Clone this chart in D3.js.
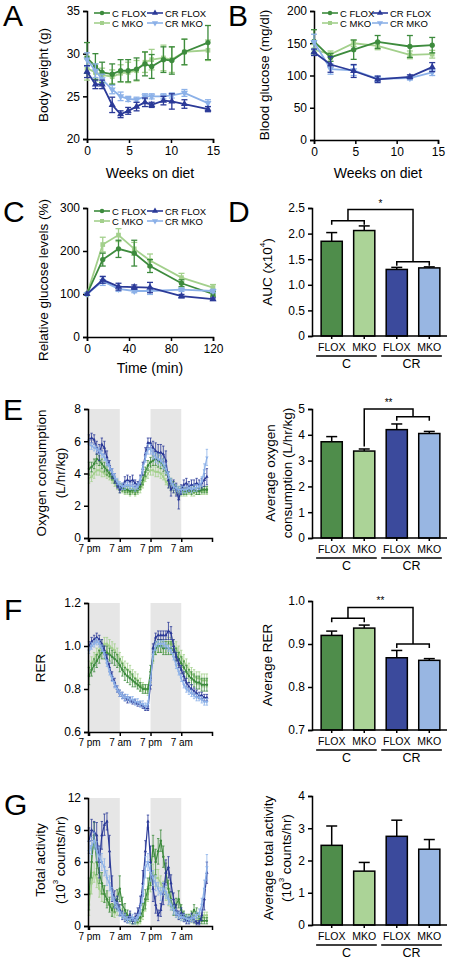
<!DOCTYPE html>
<html><head><meta charset="utf-8">
<script src="https://cdn.jsdelivr.net/npm/d3@7"></script>
<style>body{margin:0;background:#fff} svg{display:block}</style>
</head><body><svg id="c" width="450" height="965"></svg>
<script>
// ---------- shared categories ----------
const groupNames = ["C FLOX","C MKO","CR FLOX","CR MKO"];
const lineColors = ["#3d8b3d","#a3d08c","#2b3a98","#8cb1e8"];
const barColors  = ["#4f8d4b","#abd397","#3b4a9c","#98b6e2"];
const barLabels  = ["FLOX","MKO","FLOX","MKO"];
const dietLabels = ["C","CR"];
const timeTickLabels = ["7 pm","7 am","7 pm","7 am"];
const timeTickHours = [0,12,24,36];

// ---------- A: body weight ----------
const weeksA = [0,1,1.8,3,4,4.9,5.9,6.9,7.7,9.1,10.1,11.6,14.4];
const bwCFlox  = [29.5,28.5,27.8,27.6,28.0,28.0,28.2,28.8,28.5,29.3,29.2,30.2,31.3];
const bwCMko   = [28.3,27.8,27.5,27.3,27.7,27.8,28.0,29.0,29.3,29.5,29.3,30.2,30.4];
const bwCRFlox = [27.9,26.4,26.4,24.0,22.9,23.3,23.8,24.3,24.0,24.5,24.4,24.1,23.5];
const bwCRMko  = [29.3,28.0,27.0,25.8,25.0,24.7,24.6,25.0,25.0,25.0,25.1,25.4,24.2];
const bwCFloxErr  = [1.8,1.5,1.2,1.2,1.3,1.3,1.3,1.4,1.4,1.5,1.6,1.5,2.0];
const bwCMkoErr   = [1.4,1.0,0.8,0.8,1.0,1.2,1.2,1.2,1.2,1.5,1.5,1.5,1.2];
const bwCRFloxErr = [0.7,0.5,0.5,0.9,0.4,0.4,0.5,0.5,0.3,0.5,0.9,0.5,0.3];
const bwCRMkoErr  = [0.8,0.8,0.6,0.5,0.5,0.3,0.3,0.3,0.3,0.3,0.3,0.4,0.4];

// ---------- B: blood glucose ----------
const weeksB = [0,2,4.8,7.7,11.6,14.3];
const bgCFlox  = [153,128,140,152,145,147];
const bgCMko   = [140,133,150,146,132,133];
const bgCRFlox = [136,117,107,94,98,113];
const bgCRMko  = [152,110,108,95,96,105];
const bgCFloxErr  = [18,6,15,10,17,12];
const bgCMkoErr   = [8,5,5,6,6,6];
const bgCRFloxErr = [5,12,10,5,3,7];
const bgCRMkoErr  = [12,8,8,4,3,5];

// ---------- C: GTT ----------
const minutesC = [0,15,30,45,60,90,120];
const gtCFlox  = [100,180,205,195,165,125,100];
const gtCMko   = [100,215,237,205,178,138,115];
const gtCRFlox = [100,133,117,116,115,95,88];
const gtCRMko  = [100,130,112,107,107,110,107];
const gtCFloxErr  = [0,15,20,30,15,8,5];
const gtCMkoErr   = [0,17,15,15,15,10,7];
const gtCRFloxErr = [0,8,8,5,12,4,3];
const gtCRMkoErr  = [0,10,6,4,8,4,4];

// ---------- bar panels ----------
const aucMean = [1.85,2.06,1.30,1.33];
const aucErr  = [0.17,0.09,0.04,0.02];
const vo2Mean = [3.73,3.37,4.20,4.05];
const vo2Err  = [0.20,0.08,0.22,0.08];
const rerMean = [0.920,0.937,0.868,0.862];
const rerErr  = [0.010,0.007,0.017,0.004];
const actMean = [2.47,1.67,2.75,2.35];
const actErr  = [0.60,0.27,0.50,0.30];

// ---------- time series (hours from 7 pm) ----------
const hours = [0,1,2,3,4,5,6,7,8,9,10,11,12,13,14,15,16,17,18,19,20,21,22,23,24,25,26,27,28,29,30,31,32,33,34,35,36,37,38,39,40,41,42,43,44,45,46];

const o2CFlox  = [4.3,4.4,4.6,4.9,4.8,4.6,4.4,4.2,4.0,3.8,3.6,3.4,3.2,3.1,3.0,3.0,2.9,3.0,2.9,3.0,3.2,3.6,4.1,4.5,4.7,4.8,4.9,4.8,4.7,4.5,4.2,3.8,3.5,3.3,3.1,3.0,3.0,2.9,2.9,3.0,2.9,3.0,2.9,2.9,3.0,3.0,3.0];
const o2CMko   = [3.7,3.8,4.0,4.2,4.2,4.1,4.0,3.9,3.8,3.6,3.4,3.2,3.0,3.0,2.9,2.9,2.8,2.9,2.8,2.9,3.0,3.3,3.7,4.0,4.2,4.2,4.1,4.1,4.0,3.8,3.5,3.3,3.1,3.0,2.9,2.8,2.8,2.8,2.8,2.9,2.8,2.8,2.9,2.9,2.9,2.9,2.9];
const o2CRFlox = [6.1,6.2,6.1,5.6,5.3,5.8,5.6,5.0,4.5,4.0,3.7,3.3,3.0,3.2,3.5,3.6,3.5,3.6,3.4,3.3,3.6,4.3,5.2,5.9,5.9,5.6,5.4,5.3,5.3,5.2,4.8,3.6,3.0,3.2,3.0,2.4,3.0,3.3,3.4,3.2,3.3,3.3,3.4,3.3,3.4,3.6,3.8];
const o2CRMko  = [5.8,5.7,5.6,5.5,5.4,5.2,5.0,4.7,4.4,4.1,3.8,3.5,3.3,3.2,3.2,3.3,3.2,3.2,3.1,3.2,3.6,4.3,5.0,5.5,5.5,5.2,5.0,4.9,4.8,4.6,4.3,3.9,3.5,3.2,3.1,3.0,3.0,3.0,3.0,3.1,3.0,3.1,3.1,3.2,3.5,4.2,5.0];
const o2CFloxErr  = [0.4,0.3,0.3,0.3,0.3,0.3,0.3,0.3,0.2,0.2,0.2,0.2,0.2,0.2,0.2,0.2,0.2,0.2,0.2,0.2,0.2,0.3,0.3,0.3,0.3,0.3,0.4,0.4,0.4,0.4,0.3,0.3,0.2,0.2,0.2,0.2,0.2,0.2,0.2,0.2,0.2,0.2,0.2,0.2,0.2,0.2,0.2];
const o2CMkoErr   = [0.3,0.3,0.3,0.3,0.3,0.3,0.2,0.2,0.2,0.2,0.2,0.2,0.2,0.2,0.2,0.2,0.2,0.2,0.2,0.2,0.2,0.2,0.2,0.3,0.3,0.3,0.3,0.3,0.3,0.2,0.2,0.2,0.2,0.2,0.2,0.2,0.2,0.2,0.2,0.2,0.2,0.2,0.2,0.2,0.2,0.2,0.2];
const o2CRFloxErr = [0.3,0.3,0.3,0.4,0.5,0.4,0.4,0.4,0.3,0.3,0.3,0.2,0.2,0.2,0.3,0.3,0.3,0.3,0.2,0.2,0.3,0.4,0.4,0.3,0.3,0.4,0.5,0.5,0.5,0.5,0.6,0.5,0.4,0.4,0.4,0.6,0.3,0.3,0.3,0.3,0.3,0.3,0.3,0.3,0.3,0.4,0.5];
const o2CRMkoErr  = [0.3,0.2,0.2,0.2,0.2,0.2,0.2,0.2,0.2,0.2,0.2,0.2,0.2,0.2,0.2,0.2,0.2,0.2,0.2,0.2,0.2,0.2,0.3,0.3,0.3,0.3,0.3,0.3,0.3,0.3,0.3,0.2,0.2,0.2,0.2,0.2,0.2,0.2,0.2,0.2,0.2,0.2,0.2,0.2,0.3,0.4,0.5];

const rerCFlox  = [0.86,0.89,0.91,0.93,0.95,0.97,0.97,0.97,0.96,0.95,0.94,0.93,0.91,0.89,0.87,0.86,0.85,0.84,0.83,0.82,0.81,0.80,0.80,0.80,0.88,0.96,0.99,1.00,1.00,0.99,0.99,0.99,0.99,0.98,0.96,0.94,0.92,0.90,0.88,0.86,0.85,0.84,0.83,0.83,0.82,0.82,0.82];
const rerCMko   = [0.90,0.92,0.94,0.96,0.98,1.00,1.01,1.01,1.00,0.99,0.98,0.96,0.94,0.92,0.90,0.89,0.88,0.86,0.85,0.84,0.82,0.81,0.80,0.79,0.86,0.95,0.99,1.00,1.00,1.00,1.00,1.01,1.01,1.00,0.99,0.97,0.95,0.93,0.91,0.89,0.87,0.86,0.85,0.85,0.84,0.84,0.84];
const rerCRFlox = [1.00,1.02,1.03,1.04,1.03,1.01,0.98,0.94,0.90,0.86,0.83,0.80,0.78,0.77,0.76,0.75,0.75,0.74,0.74,0.73,0.73,0.72,0.71,0.71,0.82,0.99,1.04,1.05,1.05,1.05,1.05,1.07,1.06,1.00,0.95,0.92,0.89,0.86,0.83,0.81,0.80,0.79,0.78,0.77,0.77,0.76,0.76];
const rerCRMko  = [0.98,1.00,1.01,1.02,1.01,0.99,0.96,0.92,0.88,0.85,0.82,0.80,0.78,0.77,0.76,0.76,0.75,0.75,0.74,0.74,0.73,0.73,0.72,0.73,0.84,0.96,1.00,1.01,1.01,1.01,1.00,0.99,0.98,0.95,0.91,0.88,0.85,0.82,0.80,0.79,0.78,0.77,0.76,0.76,0.75,0.74,0.74];
const rerCFloxErr  = [0.04,0.03,0.03,0.03,0.03,0.03,0.03,0.03,0.03,0.03,0.03,0.03,0.03,0.03,0.03,0.03,0.03,0.03,0.02,0.02,0.02,0.02,0.02,0.02,0.03,0.03,0.03,0.03,0.03,0.03,0.03,0.03,0.03,0.03,0.03,0.03,0.03,0.03,0.03,0.03,0.03,0.03,0.03,0.03,0.03,0.03,0.03];
const rerCMkoErr   = [0.03,0.03,0.03,0.03,0.03,0.03,0.03,0.03,0.03,0.03,0.03,0.03,0.03,0.03,0.03,0.03,0.03,0.03,0.03,0.03,0.03,0.02,0.02,0.02,0.03,0.03,0.03,0.03,0.03,0.03,0.03,0.03,0.03,0.03,0.03,0.03,0.03,0.03,0.03,0.03,0.03,0.03,0.03,0.03,0.03,0.03,0.03];
const rerCRFloxErr = [0.02,0.02,0.02,0.02,0.02,0.02,0.02,0.02,0.02,0.02,0.02,0.015,0.015,0.015,0.015,0.015,0.01,0.01,0.01,0.01,0.01,0.01,0.01,0.01,0.02,0.02,0.02,0.02,0.02,0.02,0.02,0.04,0.03,0.03,0.02,0.02,0.02,0.02,0.02,0.02,0.02,0.015,0.015,0.015,0.015,0.015,0.015];
const rerCRMkoErr  = [0.015,0.015,0.015,0.015,0.015,0.015,0.015,0.015,0.015,0.015,0.015,0.015,0.015,0.015,0.015,0.015,0.015,0.015,0.015,0.015,0.015,0.015,0.015,0.015,0.02,0.02,0.02,0.015,0.015,0.015,0.015,0.015,0.015,0.015,0.015,0.015,0.015,0.015,0.015,0.015,0.015,0.015,0.015,0.015,0.015,0.015,0.015];

const actCFlox  = [3.0,6.0,8.5,6.0,5.0,4.0,3.0,2.5,2.0,1.5,2.0,2.5,3.5,2.0,1.5,1.0,0.8,0.5,0.5,0.6,0.8,1.5,2.5,3.5,5.0,7.5,6.0,7.0,8.0,6.5,5.0,3.5,2.5,1.5,2.0,2.5,1.5,1.0,0.8,0.8,1.0,1.5,1.2,0.8,0.5,0.5,0.5];
const actCMko   = [2.0,4.0,5.0,4.5,3.5,3.0,3.0,2.5,2.0,1.5,1.2,1.5,1.5,1.2,1.0,0.6,0.5,0.5,0.4,0.3,0.5,1.0,2.0,3.0,4.0,5.0,4.5,4.5,4.0,3.5,3.0,2.5,2.0,1.5,1.2,1.0,0.8,0.8,0.7,0.6,0.6,0.5,0.5,0.6,0.8,1.0,1.0];
const actCRFlox = [8.0,9.0,8.8,8.5,6.0,8.5,9.5,9.8,7.0,3.5,2.5,2.2,1.5,1.0,0.8,0.6,1.0,0.5,0.8,1.2,2.0,4.0,7.0,9.8,6.0,3.5,2.0,1.0,1.5,3.0,5.0,5.5,4.0,2.5,1.5,1.0,1.2,0.8,0.5,0.5,0.8,0.6,0.3,0.3,1.0,2.5,5.0];
const actCRMko  = [7.0,7.5,8.0,7.0,6.5,6.0,5.5,4.5,4.0,3.0,2.2,1.8,1.3,1.0,0.8,0.6,0.6,0.8,0.5,0.8,1.5,3.0,5.5,6.0,5.0,4.5,4.0,3.5,3.0,3.5,3.2,2.5,2.0,1.5,1.2,1.0,0.8,0.8,0.7,0.6,0.7,0.8,1.0,1.2,2.0,3.5,5.5];
const actCFloxErr  = [1.5,1.5,1.2,1.2,1.0,1.0,0.8,0.8,0.7,0.6,0.7,0.9,1.2,0.7,0.6,0.5,0.4,0.3,0.3,0.3,0.4,0.6,0.9,1.0,1.2,1.0,1.2,1.2,1.0,1.0,0.9,0.8,0.7,0.5,0.6,0.8,0.5,0.4,0.3,0.3,0.4,0.5,0.5,0.4,0.3,0.3,0.3];
const actCMkoErr   = [1.0,1.0,0.9,0.9,0.8,0.7,0.7,0.6,0.5,0.5,0.4,0.5,0.5,0.4,0.4,0.3,0.3,0.3,0.2,0.2,0.3,0.4,0.6,0.7,0.8,0.8,0.8,0.8,0.7,0.7,0.6,0.6,0.5,0.4,0.4,0.3,0.3,0.3,0.3,0.3,0.3,0.3,0.3,0.3,0.3,0.3,0.3];
const actCRFloxErr = [1.2,1.0,1.0,1.2,1.5,1.3,1.0,0.8,1.5,1.2,0.8,0.6,0.5,0.4,0.4,0.3,0.4,0.3,0.4,0.5,0.8,1.2,1.0,0.6,1.5,1.2,0.8,0.5,0.6,1.0,1.2,1.0,0.8,0.6,0.5,0.4,0.5,0.4,0.3,0.3,0.4,0.3,0.2,0.2,0.5,1.0,1.0];
const actCRMkoErr  = [1.0,0.8,0.8,0.9,0.9,0.8,0.8,0.7,0.7,0.6,0.5,0.4,0.4,0.3,0.3,0.3,0.3,0.3,0.3,0.3,0.5,0.8,1.0,0.8,0.8,0.7,0.7,0.6,0.6,0.6,0.6,0.5,0.5,0.4,0.4,0.3,0.3,0.3,0.3,0.3,0.3,0.3,0.3,0.4,0.6,0.8,1.2];

// ================= drawing =================
const FONT = '"Liberation Sans", Arial, Helvetica, sans-serif';
const YT = 13.5, XT = 14;
const svg = d3.select("#c");

function styleAxis(g, fs) {
  g.selectAll("path, line").attr("stroke","#000").attr("stroke-width",1.5);
  g.selectAll("text").attr("font-family",FONT).attr("font-size",fs).attr("fill","#000");
}
function symPath(i, size) {
  const t = [d3.symbolCircle, d3.symbolSquare, d3.symbolTriangle, d3.symbolTriangle][i];
  return d3.symbol().type(t).size(size)();
}
function txt(x, y, s, fs, anchor, rot) {
  const t = svg.append("text").attr("font-family",FONT).attr("font-size",fs).attr("fill","#000")
    .attr("text-anchor",anchor||"start");
  if (rot) t.attr("transform",`translate(${x},${y}) rotate(-90)`).attr("dominant-baseline","central");
  else t.attr("x",x).attr("y",y);
  t.text(s);
  return t;
}
function letter(x, y, s) { txt(x, y, s, 30, "start"); }

function drawSeries(x, y, xs, means, errs, i, opt) {
  const g = svg.append("g");
  const c = lineColors[i];
  const pts = xs.map((d,k)=>({x:d, m:means[k], e:errs[k]}));
  pts.forEach(p => {
    if (!p.e) return;
    const px = x(p.x), y1 = y(p.m + p.e), y2 = y(p.m - p.e);
    g.append("line").attr("x1",px).attr("x2",px).attr("y1",y1).attr("y2",y2)
      .attr("stroke",c).attr("stroke-width",opt.ew);
    [y1,y2].forEach(yy => g.append("line").attr("x1",px-opt.cap).attr("x2",px+opt.cap)
      .attr("y1",yy).attr("y2",yy).attr("stroke",c).attr("stroke-width",opt.ew));
  });
  g.append("path").datum(pts)
    .attr("d", d3.line().x(p=>x(p.x)).y(p=>y(p.m)))
    .attr("fill","none").attr("stroke",c).attr("stroke-width",opt.lw);
  pts.forEach(p => {
    g.append("path").attr("d",symPath(i,opt.ms))
      .attr("transform",`translate(${x(p.x)},${y(p.m)})${i===3?" rotate(180)":""}`)
      .attr("fill",c);
  });
}

function legend(x0, y0, colDx, rowDy) {
  const order = [[0,0,0],[2,1,0],[1,0,1],[3,1,1]];
  order.forEach(([i,col,row]) => {
    const lx = x0 + col*colDx, ly = y0 + row*rowDy;
    svg.append("line").attr("x1",lx).attr("x2",lx+16).attr("y1",ly).attr("y2",ly)
      .attr("stroke",lineColors[i]).attr("stroke-width",1.6);
    svg.append("path").attr("d",symPath(i,16))
      .attr("transform",`translate(${lx+8},${ly})${i===3?" rotate(180)":""}`).attr("fill",lineColors[i]);
    txt(lx+18, ly+3.5, groupNames[i], 9.5, "start");
  });
}

function lineChart(o) {
  const x = d3.scaleLinear().domain(o.xDom).range(o.xRange);
  const y = d3.scaleLinear().domain(o.yDom).range(o.yRange);
  const gx = svg.append("g").attr("transform",`translate(0,${o.yRange[0]})`)
    .call(d3.axisBottom(x).tickValues(o.xTicks).tickSizeOuter(0).tickSize(4).tickPadding(3));
  styleAxis(gx, 12);
  const gy = svg.append("g").attr("transform",`translate(${o.xRange[0]},0)`)
    .call(d3.axisLeft(y).tickValues(o.yTicks).tickSizeOuter(0).tickSize(4).tickPadding(3));
  styleAxis(gy, 12);
  o.series.forEach((s,k) => drawSeries(x, y, o.xs, s[0], s[1], s[2], {ew:1.3, cap:3, lw:1.8, ms:22}));
  return {x, y};
}

function tsChart(o) {
  const x = d3.scaleLinear().domain([-0.4,48]).range([88,212]);
  const y = d3.scaleLinear().domain(o.yDom).range(o.yRange);
  [[0,12],[24,36]].forEach(([a,b]) => svg.append("rect").attr("x",x(a)).attr("width",x(b)-x(a))
    .attr("y",o.yRange[1]).attr("height",o.yRange[0]-o.yRange[1]).attr("fill","#e6e6e6"));
  o.series.forEach(s => drawSeries(x, y, hours, s[0], s[1], s[2], {ew:0.8, cap:1.2, lw:1.2, ms:5}));
  const gx = svg.append("g").attr("transform",`translate(0,${o.yRange[0]})`)
    .call(d3.axisBottom(x).tickValues(timeTickHours).tickFormat((d,k)=>timeTickLabels[k])
      .tickSizeOuter(0).tickSize(4).tickPadding(3));
  styleAxis(gx, 10);
  const gy = svg.append("g").attr("transform",`translate(88,0)`)
    .call(d3.axisLeft(y).tickValues(o.yTicks).tickFormat(o.fmt).tickSizeOuter(0).tickSize(4).tickPadding(3));
  styleAxis(gy, 12);
}

function barChart(o) {
  const x = d3.scaleBand().domain([0,1,2,3]).range([313,448]).paddingInner(0.35).paddingOuter(0.25);
  const y = d3.scaleLinear().domain(o.yDom).range(o.yRange);
  const base = o.yRange[0];
  o.vals.forEach((v,i) => {
    const cx = x(i) + x.bandwidth()/2;
    const top = y(v + o.errs[i]);
    svg.append("line").attr("x1",cx).attr("x2",cx).attr("y1",y(v)).attr("y2",top).attr("stroke","#000").attr("stroke-width",1.5);
    svg.append("line").attr("x1",cx-5.5).attr("x2",cx+5.5).attr("y1",top).attr("y2",top).attr("stroke","#000").attr("stroke-width",1.5);
    svg.append("rect").attr("x",x(i)).attr("width",x.bandwidth()).attr("y",y(v)).attr("height",base-y(v))
      .attr("fill",barColors[i]).attr("stroke","#000").attr("stroke-width",1.5);
  });
  const gx = svg.append("g").attr("transform",`translate(0,${base})`)
    .call(d3.axisBottom(x).tickFormat(()=> "").tickSizeOuter(0).tickSize(3));
  gx.select(".domain").attr("d",`M312,0H447`);
  styleAxis(gx, 11);
  const gy = svg.append("g").attr("transform",`translate(312,0)`)
    .call(d3.axisLeft(y).tickValues(o.yTicks).tickFormat(o.fmt).tickSizeOuter(0).tickSize(4).tickPadding(3));
  styleAxis(gy, 12);
  barLabels.forEach((s,i) => txt(x(i)+x.bandwidth()/2, base+15, s, 10.5, "middle"));
  [[0,1],[2,3]].forEach(([a,b],k) => {
    const x1 = x(a)-5, x2 = x(b)+x.bandwidth()+2;
    svg.append("line").attr("x1",x1).attr("x2",x2).attr("y1",base+20).attr("y2",base+20)
      .attr("stroke","#000").attr("stroke-width",1.3);
    txt((x1+x2)/2, base+32, dietLabels[k], 12.5, "middle");
  });
  return {x, y};
}

function bracket(x, y, leftPair, leftY, rightPair, rightY, topY, star, leftSingle) {
  const cx = i => x(i) + x.bandwidth()/2;
  const p = d3.path();
  const tk = 4;
  let lx;
  if (leftSingle) { lx = cx(leftPair[0]); }
  else {
    p.moveTo(cx(leftPair[0]), y(leftY)+tk); p.lineTo(cx(leftPair[0]), y(leftY));
    p.lineTo(cx(leftPair[1]), y(leftY)); p.lineTo(cx(leftPair[1]), y(leftY)+tk);
    lx = (cx(leftPair[0])+cx(leftPair[1]))/2;
  }
  const rx = (cx(rightPair[0])+cx(rightPair[1]))/2;
  p.moveTo(lx, y(leftY)); p.lineTo(lx, y(topY)); p.lineTo(rx, y(topY)); p.lineTo(rx, y(rightY));
  p.moveTo(cx(rightPair[0]), y(rightY)+tk); p.lineTo(cx(rightPair[0]), y(rightY));
  p.lineTo(cx(rightPair[1]), y(rightY)); p.lineTo(cx(rightPair[1]), y(rightY)+tk);
  svg.append("path").attr("d",p.toString()).attr("fill","none").attr("stroke","#000").attr("stroke-width",1.5);
  txt((lx+rx)/2, y(topY)-3, star, 10, "middle");
}

// ---- Panel A ----
letter(3, 26, "A");
lineChart({xDom:[0,15], xRange:[87,213], yDom:[20,35], yRange:[139,11], xTicks:[0,5,10,15], yTicks:[20,25,30,35],
  xs: weeksA, series:[[bwCMko,bwCMkoErr,1],[bwCFlox,bwCFloxErr,0],[bwCRMko,bwCRMkoErr,3],[bwCRFlox,bwCRFloxErr,2]]});
legend(94, 13, 53, 10);
txt(43, 75, "Body weight (g)", YT, "middle", true);
txt(150, 178, "Weeks on diet", XT, "middle");

// ---- Panel B ----
letter(228, 26, "B");
lineChart({xDom:[0,15], xRange:[314,438], yDom:[0,200], yRange:[140,11], xTicks:[0,5,10,15], yTicks:[0,50,100,150,200],
  xs: weeksB, series:[[bgCMko,bgCMkoErr,1],[bgCFlox,bgCFloxErr,0],[bgCRMko,bgCRMkoErr,3],[bgCRFlox,bgCRFloxErr,2]]});
legend(322, 13, 50, 10);
txt(264, 75, "Blood glucose (mg/dl)", YT, "middle", true);
txt(378, 178, "Weeks on diet", XT, "middle");

// ---- Panel C ----
letter(3, 222, "C");
lineChart({xDom:[0,120], xRange:[87,213], yDom:[0,300], yRange:[337,208], xTicks:[0,40,80,120], yTicks:[0,100,200,300],
  xs: minutesC, series:[[gtCMko,gtCMkoErr,1],[gtCFlox,gtCFloxErr,0],[gtCRMko,gtCRMkoErr,3],[gtCRFlox,gtCRFloxErr,2]]});
legend(94, 211, 53, 10);
txt(43, 280, "Relative glucose levels (%)", YT, "middle", true);
txt(150, 373, "Time (min)", XT, "middle");

// ---- Panel D ----
letter(228, 222, "D");
{
  const fmt = d => d===0 ? "0" : d3.format(".1f")(d);
  const {x,y} = barChart({yDom:[0,2.5], yRange:[336,208], yTicks:[0,0.5,1,1.5,2,2.5], fmt, vals:aucMean, errs:aucErr});
  bracket(x, y, [0,1], 2.25, [2,3], 1.45, 2.47, "*");
  const t = txt(267, 272, "", YT, "middle", true);
  t.append("tspan").text("AUC (x10");
  t.append("tspan").attr("font-size",8).attr("dy",-5).text("4");
  t.append("tspan").attr("dy",5).text(")");
}

// ---- Panel E ----
letter(3, 420, "E");
tsChart({yDom:[0,8], yRange:[538,409], yTicks:[0,2,4,6,8], fmt:d3.format("d"),
  series:[[o2CMko,o2CMkoErr,1],[o2CFlox,o2CFloxErr,0],[o2CRFlox,o2CRFloxErr,2],[o2CRMko,o2CRMkoErr,3]]});
txt(41, 473, "Oxygen consumption", YT, "middle", true);
txt(60, 473, "(L/hr/kg)", YT, "middle", true);
{
  const {x,y} = barChart({yDom:[0,5], yRange:[538,409], yTicks:[0,1,2,3,4,5], fmt:d3.format("d"), vals:vo2Mean, errs:vo2Err});
  bracket(x, y, [1], 3.55, [2,3], 4.7, 5.0, "**", true);
  txt(270, 473, "Average oxygen", YT, "middle", true);
  txt(287, 473, "consumption (L/hr/kg)", YT, "middle", true);
}

// ---- Panel F ----
letter(4, 620, "F");
tsChart({yDom:[0.6,1.2], yRange:[732,603], yTicks:[0.6,0.8,1.0,1.2], fmt:d3.format(".1f"),
  series:[[rerCMko,rerCMkoErr,1],[rerCFlox,rerCFloxErr,0],[rerCRFlox,rerCRFloxErr,2],[rerCRMko,rerCRMkoErr,3]]});
txt(40, 668, "RER", YT, "middle", true);
{
  const {x,y} = barChart({yDom:[0.7,1.0], yRange:[730,601], yTicks:[0.7,0.8,0.9,1.0], fmt:d3.format(".1f"), vals:rerMean, errs:rerErr});
  bracket(x, y, [0,1], 0.96, [2,3], 0.9, 0.985, "**");
  txt(267, 665, "Average RER", YT, "middle", true);
}

// ---- Panel G ----
letter(4, 815, "G");
tsChart({yDom:[0,12], yRange:[926,798], yTicks:[0,3,6,9,12], fmt:d3.format("d"),
  series:[[actCMko,actCMkoErr,1],[actCFlox,actCFloxErr,0],[actCRFlox,actCRFloxErr,2],[actCRMko,actCRMkoErr,3]]});
txt(40, 860, "Total activity", YT, "middle", true);
{
  const t = txt(60, 860, "", YT, "middle", true);
  t.append("tspan").text("(10");
  t.append("tspan").attr("font-size",8).attr("dy",-5).text("3");
  t.append("tspan").attr("dy",5).text(" counts/hr)");
}
{
  barChart({yDom:[0,4], yRange:[925,796], yTicks:[0,1,2,3,4], fmt:d3.format("d"), vals:actMean, errs:actErr});
  txt(268, 858, "Average total activity", YT, "middle", true);
  const t = txt(286, 858, "", YT, "middle", true);
  t.append("tspan").text("(10");
  t.append("tspan").attr("font-size",8).attr("dy",-5).text("3");
  t.append("tspan").attr("dy",5).text(" counts/hr)");
}
</script></body></html>
